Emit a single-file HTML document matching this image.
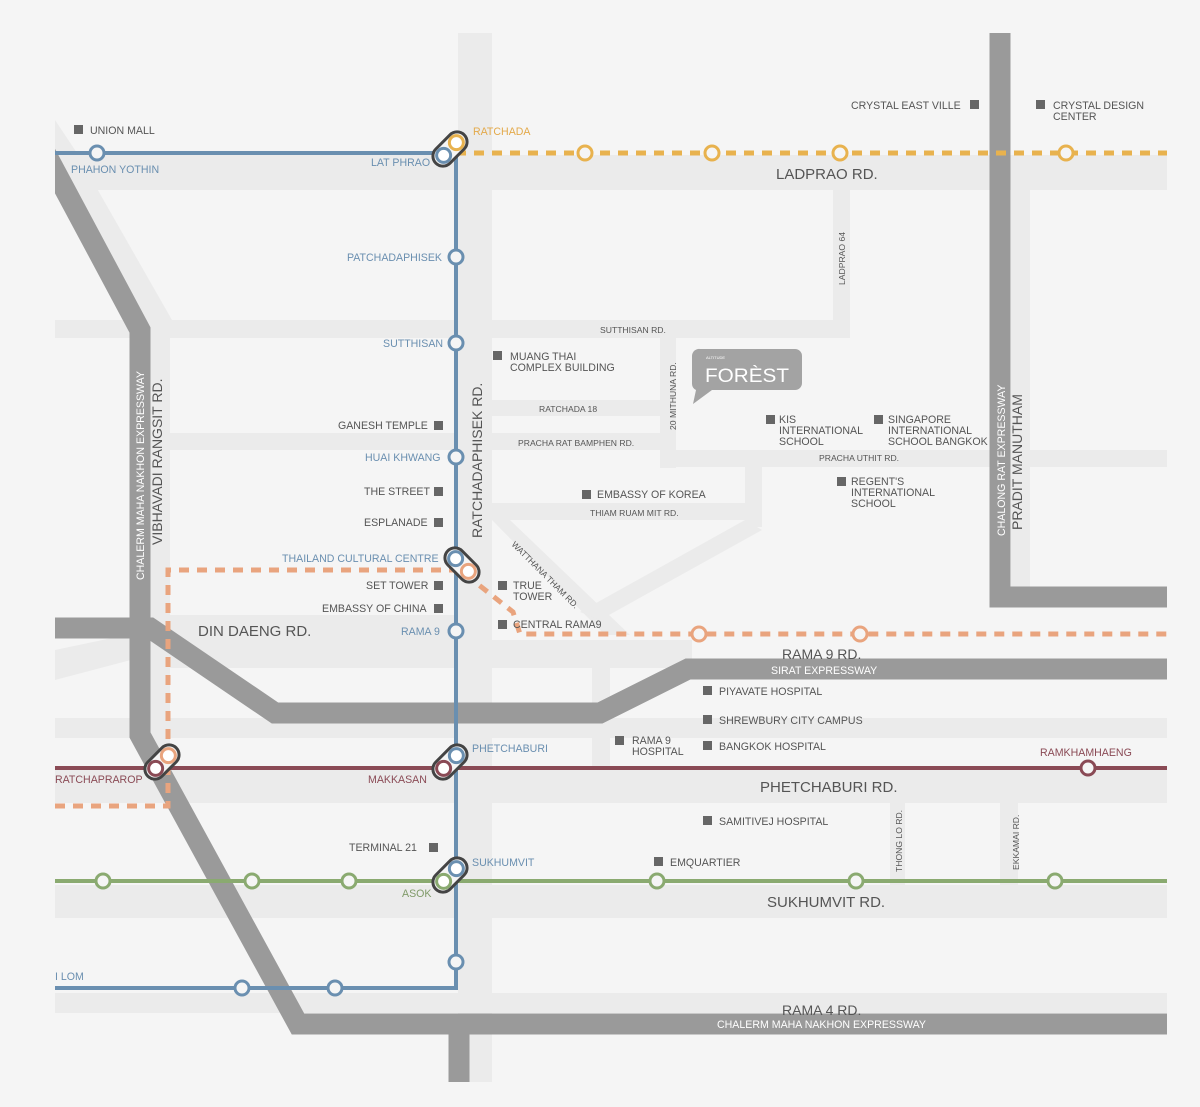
<!DOCTYPE html>
<html><head><meta charset="utf-8"><style>
html,body{margin:0;padding:0;background:#f5f5f5;}
svg{display:block;font-family:"Liberation Sans",sans-serif;}
.l{font-size:10.6px;fill:#555;}
.b{font-size:10.6px;fill:#6a8fb0;}
.o{font-size:10.6px;fill:#e3a94a;}
.m{font-size:10.6px;fill:#8a4a55;}
.g{font-size:10.6px;fill:#7f9a68;}
.s{font-size:8.6px;fill:#555;}
.r{font-size:15px;fill:#555;}
.w{font-size:10.6px;fill:#fff;}
</style></head><body>
<svg width="1200" height="1107" viewBox="0 0 1200 1107" xmlns="http://www.w3.org/2000/svg">
<defs><clipPath id="c"><rect x="55" y="0" width="1112" height="1107"/></clipPath></defs>
<rect width="1200" height="1107" fill="#f5f5f5"/>
<g clip-path="url(#c)">
<g fill="#ebebeb">
<rect x="458" y="33" width="34" height="1049"/>
<rect x="55" y="155" width="1112" height="35"/>
<rect x="833" y="190" width="17" height="148"/>
<rect x="55" y="320" width="795" height="18"/>
<rect x="150" y="330" width="20" height="440"/>
<polygon points="55,120 75,150 172,320 150,330 55,170"/>
<rect x="170" y="433" width="490" height="17"/>
<rect x="492" y="400" width="168" height="16"/>
<rect x="660" y="338" width="16" height="130"/>
<rect x="660" y="450" width="507" height="17"/>
<rect x="492" y="503" width="268" height="17"/>
<rect x="745" y="467" width="17" height="60"/>
<polygon points="492,520 510,520 630,635 605,635"/>
<polygon points="745,520 762,530 600,620 580,612"/>
<rect x="170" y="615" width="288" height="53"/>
<rect x="492" y="640" width="200" height="28"/>
<polygon points="55,650 150,630 150,655 55,680"/>
<rect x="55" y="718" width="1112" height="20"/>
<rect x="592" y="668" width="18" height="100"/>
<rect x="55" y="770" width="1112" height="33"/>
<rect x="890" y="803" width="15" height="82"/>
<rect x="1000" y="803" width="18" height="82"/>
<rect x="55" y="885" width="1112" height="33"/>
<rect x="55" y="993" width="1112" height="20"/>
<rect x="1011" y="190" width="19" height="400"/>
</g>
<g fill="none" stroke="#9a9a9a" stroke-linejoin="miter">
<polyline points="40,143 140,330 140,735 298,1024 1167,1024" stroke-width="21"/>
<polyline points="55,628 150,628 275,713 600,713 688,669 1167,669" stroke-width="21"/>
<polyline points="1000,33 1000,597 1167,597" stroke-width="21"/>
<line x1="459" y1="1030" x2="459" y2="1082" stroke-width="21"/>
</g>
</g>
<g fill="none" stroke-width="4">
<polyline points="55,153 456,153 456,988 55,988" stroke="#6a8fb0"/>
<line x1="456" y1="153" x2="1167" y2="153" stroke="#e8b24e" stroke-width="5" stroke-dasharray="10,8"/>
<polyline points="55,806 168,806 168,570 460,570 513,612 520,634 1167,634" stroke="#e9a47e" stroke-width="5" stroke-dasharray="10,8"/>
<line x1="55" y1="768" x2="1167" y2="768" stroke="#8a4a55"/>
<line x1="55" y1="881" x2="1167" y2="881" stroke="#8aaa70"/>
</g>
<g stroke-width="3" fill="#f5f5f5">
<g stroke="#6a8fb0">
<circle cx="97" cy="153" r="7"/><circle cx="456" cy="257" r="7"/><circle cx="456" cy="343" r="7"/><circle cx="456" cy="457" r="7"/><circle cx="456" cy="631" r="7"/><circle cx="456" cy="962" r="7"/><circle cx="242" cy="988" r="7"/><circle cx="335" cy="988" r="7"/>
</g>
<g stroke="#e8b24e"><circle cx="585" cy="153" r="7"/><circle cx="712" cy="153" r="7"/><circle cx="840" cy="153" r="7"/><circle cx="1066" cy="153" r="7"/></g>
<g stroke="#e9a47e"><circle cx="699" cy="634" r="7"/><circle cx="860" cy="634" r="7"/></g>
<g stroke="#8aaa70"><circle cx="103" cy="881" r="7"/><circle cx="252" cy="881" r="7"/><circle cx="349" cy="881" r="7"/><circle cx="657" cy="881" r="7"/><circle cx="856" cy="881" r="7"/><circle cx="1055" cy="881" r="7"/></g>
<g stroke="#8a4a55"><circle cx="1088" cy="768" r="7"/></g>
</g>
<g>
<g transform="translate(450,149) rotate(-45)"><rect x="-20" y="-10" width="40" height="20" rx="10" fill="#f5f5f5" stroke="#444" stroke-width="3"/><circle cx="-9" cy="0" r="7" fill="#fff" stroke="#6a8fb0" stroke-width="3"/><circle cx="9" cy="0" r="7" fill="#fff" stroke="#e8b24e" stroke-width="3"/></g>
<g transform="translate(462,565) rotate(45)"><rect x="-20" y="-10" width="40" height="20" rx="10" fill="#f5f5f5" stroke="#444" stroke-width="3"/><circle cx="-9" cy="0" r="7" fill="#fff" stroke="#6a8fb0" stroke-width="3"/><circle cx="9" cy="0" r="7" fill="#fff" stroke="#e9a47e" stroke-width="3"/></g>
<g transform="translate(450,762) rotate(-45)"><rect x="-20" y="-10" width="40" height="20" rx="10" fill="#f5f5f5" stroke="#444" stroke-width="3"/><circle cx="-9" cy="0" r="7" fill="#fff" stroke="#8a4a55" stroke-width="3"/><circle cx="9" cy="0" r="7" fill="#fff" stroke="#6a8fb0" stroke-width="3"/></g>
<g transform="translate(450,875) rotate(-45)"><rect x="-20" y="-10" width="40" height="20" rx="10" fill="#f5f5f5" stroke="#444" stroke-width="3"/><circle cx="-9" cy="0" r="7" fill="#fff" stroke="#8aaa70" stroke-width="3"/><circle cx="9" cy="0" r="7" fill="#fff" stroke="#6a8fb0" stroke-width="3"/></g>
<g transform="translate(162,762) rotate(-45)"><rect x="-20" y="-10" width="40" height="20" rx="10" fill="#f5f5f5" stroke="#444" stroke-width="3"/><circle cx="-9" cy="0" r="7" fill="#fff" stroke="#8a4a55" stroke-width="3"/><circle cx="9" cy="0" r="7" fill="#fff" stroke="#e9a47e" stroke-width="3"/></g>
</g>
<path d="M700,349 H795 a7,7 0 0 1 7,7 V383 a7,7 0 0 1 -7,7 H712 L693,404 L696,390 a7,7 0 0 1 -4,-6 V356 a7,7 0 0 1 8,-7z" fill="#a3a3a3"/>
<text x="706" y="359" font-size="4" fill="#fff">ALTITUDE</text>
<text x="705" y="382" font-size="19" fill="#fff" textLength="84" lengthAdjust="spacingAndGlyphs">FORÈST</text>
<g fill="#666">
<rect x="74" y="125" width="9" height="9"/><rect x="970" y="100" width="9" height="9"/><rect x="1036" y="100" width="9" height="9"/>
<rect x="493" y="351" width="9" height="9"/><rect x="434" y="421" width="9" height="9"/><rect x="766" y="415" width="9" height="9"/><rect x="874" y="415" width="9" height="9"/>
<rect x="434" y="487" width="9" height="9"/><rect x="582" y="490" width="9" height="9"/><rect x="837" y="477" width="9" height="9"/><rect x="434" y="518" width="9" height="9"/>
<rect x="434" y="581" width="9" height="9"/><rect x="498" y="581" width="9" height="9"/><rect x="434" y="604" width="9" height="9"/><rect x="498" y="620" width="9" height="9"/>
<rect x="703" y="686" width="9" height="9"/><rect x="703" y="715" width="9" height="9"/><rect x="615" y="736" width="9" height="9"/><rect x="703" y="741" width="9" height="9"/>
<rect x="703" y="816" width="9" height="9"/><rect x="429" y="843" width="9" height="9"/><rect x="654" y="857" width="9" height="9"/>
</g>
<g class="l">
<text x="90" y="134">UNION MALL</text>
<text x="851" y="109">CRYSTAL EAST VILLE</text>
<text x="1053" y="109">CRYSTAL DESIGN</text><text x="1053" y="120">CENTER</text>
<text x="510" y="360">MUANG THAI</text><text x="510" y="371">COMPLEX BUILDING</text>
<text x="338" y="429">GANESH TEMPLE</text>
<text x="779" y="423">KIS</text><text x="779" y="434">INTERNATIONAL</text><text x="779" y="445">SCHOOL</text>
<text x="888" y="423">SINGAPORE</text><text x="888" y="434">INTERNATIONAL</text><text x="888" y="445">SCHOOL BANGKOK</text>
<text x="364" y="495">THE STREET</text>
<text x="597" y="498">EMBASSY OF KOREA</text>
<text x="851" y="485">REGENT'S</text><text x="851" y="496">INTERNATIONAL</text><text x="851" y="507">SCHOOL</text>
<text x="364" y="526">ESPLANADE</text>
<text x="366" y="589">SET TOWER</text>
<text x="513" y="589">TRUE</text><text x="513" y="600">TOWER</text>
<text x="322" y="612">EMBASSY OF CHINA</text>
<text x="513" y="628">CENTRAL RAMA9</text>
<text x="719" y="695">PIYAVATE HOSPITAL</text>
<text x="719" y="724">SHREWBURY CITY CAMPUS</text>
<text x="632" y="744">RAMA 9</text><text x="632" y="755">HOSPITAL</text>
<text x="719" y="750">BANGKOK HOSPITAL</text>
<text x="719" y="825">SAMITIVEJ HOSPITAL</text>
<text x="349" y="851">TERMINAL 21</text>
<text x="670" y="866">EMQUARTIER</text>
</g>
<g class="s">
<text x="600" y="333">SUTTHISAN RD.</text>
<text x="539" y="412">RATCHADA 18</text>
<text x="518" y="446">PRACHA RAT BAMPHEN RD.</text>
<text x="819" y="461">PRACHA UTHIT RD.</text>
<text x="590" y="516">THIAM RUAM MIT RD.</text>
<text transform="translate(511,545) rotate(45)">WATTHANA THAM RD.</text>
<text transform="translate(845,285) rotate(-90)">LADPRAO 64</text>
<text transform="translate(676,430) rotate(-90)">20 MITHUNA RD.</text>
<text transform="translate(902,872) rotate(-90)">THONG LO RD.</text>
<text transform="translate(1019,870) rotate(-90)">EKKAMAI RD.</text>
</g>
<g class="b">
<text x="71" y="173">PHAHON YOTHIN</text>
<text x="371" y="166">LAT PHRAO</text>
<text x="347" y="261">PATCHADAPHISEK</text>
<text x="383" y="347">SUTTHISAN</text>
<text x="365" y="461">HUAI KHWANG</text>
<text x="282" y="562">THAILAND CULTURAL CENTRE</text>
<text x="401" y="635">RAMA 9</text>
<text x="472" y="752">PHETCHABURI</text>
<text x="472" y="866">SUKHUMVIT</text>
<text x="55" y="980">I LOM</text>
</g>
<text class="o" x="473" y="135">RATCHADA</text>
<g class="m"><text x="55" y="783">RATCHAPRAROP</text><text x="368" y="783">MAKKASAN</text><text x="1040" y="756">RAMKHAMHAENG</text></g>
<text class="g" x="402" y="897">ASOK</text>
<g class="r">
<text x="776" y="179">LADPRAO RD.</text>
<text x="198" y="636">DIN DAENG RD.</text>
<text x="782" y="659" font-size="14">RAMA 9 RD.</text>
<text x="760" y="792">PHETCHABURI RD.</text>
<text x="767" y="907">SUKHUMVIT RD.</text>
<text x="782" y="1015" font-size="14">RAMA 4 RD.</text>
<text transform="translate(482,538) rotate(-90)" font-size="14">RATCHADAPHISEK RD.</text>
<text transform="translate(162,545) rotate(-90)" font-size="14">VIBHAVADI RANGSIT RD.</text>
<text transform="translate(1022,530) rotate(-90)" font-size="14">PRADIT MANUTHAM</text>
</g>
<text class="w" x="771" y="674">SIRAT EXPRESSWAY</text>
<text class="w" x="717" y="1028">CHALERM MAHA NAKHON EXPRESSWAY</text>
<text class="w" transform="translate(144,580) rotate(-90)">CHALERM MAHA NAKHON EXPRESSWAY</text>
<text class="w" transform="translate(1005,536) rotate(-90)">CHALONG RAT EXPRESSWAY</text>
</svg>
</body></html>
